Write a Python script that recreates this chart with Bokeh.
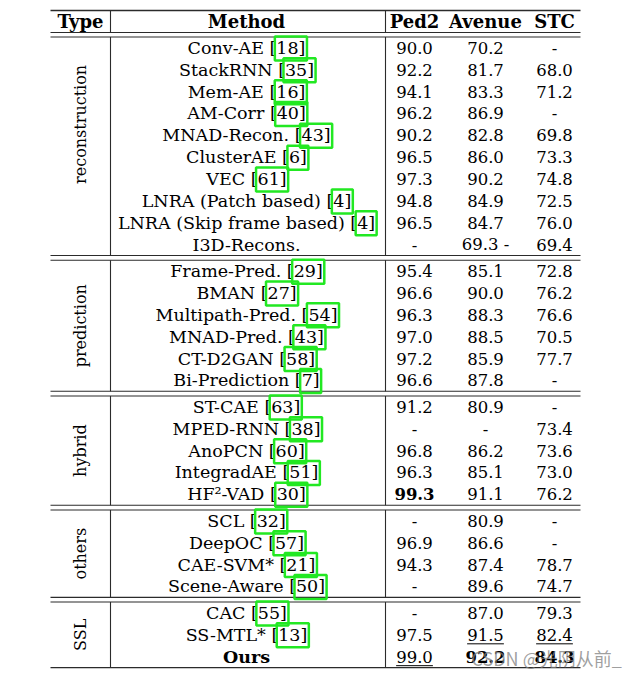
import glob, math
from bokeh.plotting import figure
from bokeh.models import Range1d, ColumnDataSource
from bokeh.embed import file_html
from bokeh.resources import INLINE
from bokeh.core.properties import value

# ---------------- data ----------------
headers = ["Type", "Method", "Ped2", "Avenue", "STC"]
types = ["reconstruction", "prediction", "hybrid", "others", "SSL"]
group_sizes = [10, 6, 5, 4, 3]
methods = ["Conv-AE", "StackRNN", "Mem-AE", "AM-Corr", "MNAD-Recon.", "ClusterAE", "VEC",
           "LNRA (Patch based)", "LNRA (Skip frame based)", "I3D-Recons.",
           "Frame-Pred.", "BMAN", "Multipath-Pred.", "MNAD-Pred.", "CT-D2GAN", "Bi-Prediction",
           "ST-CAE", "MPED-RNN", "AnoPCN", "IntegradAE", "HF²-VAD",
           "SCL", "DeepOC", "CAE-SVM*", "Scene-Aware",
           "CAC", "SS-MTL*", "Ours"]
refs = ["18", "35", "16", "40", "43", "6", "61", "4", "4", "",
        "29", "27", "54", "43", "58", "7",
        "63", "38", "60", "51", "30",
        "32", "57", "21", "50",
        "55", "13", ""]
ped2 = ["90.0", "92.2", "94.1", "96.2", "90.2", "96.5", "97.3", "94.8", "96.5", "-",
        "95.4", "96.6", "96.3", "97.0", "97.2", "96.6",
        "91.2", "-", "96.8", "96.3", "99.3",
        "-", "96.9", "94.3", "-",
        "-", "97.5", "99.0"]
avenue = ["70.2", "81.7", "83.3", "86.9", "82.8", "86.0", "90.2", "84.9", "84.7", "69.3 -",
          "85.1", "90.0", "88.3", "88.5", "85.9", "87.8",
          "80.9", "-", "86.2", "85.1", "91.1",
          "80.9", "86.6", "87.4", "89.6",
          "87.0", "91.5", "92.2"]
stc = ["-", "68.0", "71.2", "-", "69.8", "73.3", "74.8", "72.5", "76.0", "69.4",
       "72.8", "76.2", "76.6", "70.5", "77.7", "-",
       "-", "73.4", "73.6", "73.0", "76.2",
       "-", "-", "78.7", "74.7",
       "79.3", "82.4", "84.3"]
bold_cells = [("HF²-VAD", 0), ("Ours", 1), ("Ours", 2)]
bold_methods = ["Ours"]
underlined_cells = [("SS-MTL*", 1), ("SS-MTL*", 2), ("Ours", 0)]
watermark = "CSDN @光阴从前_"

# ---------------- layout ----------------
X_LEFT, X_RIGHT = 51, 581
X_V = [111, 386]
X_TYPE, X_METHOD = 81, 247
X_COLS = [415, 486, 555]
Y_TOP, Y_HEAD = 11, 21.5
HEAD_RULES = [33, 37.5]
PITCH, GAP = 21.85, 4.7
LABEL_ROWS = [8, 6, 5, 4, 3]

BODY_FONT = "DejaVu Serif"
METHOD_SIZE, NUM_SIZE, LABEL_SIZE = 17.5, 16.5, 16
HEAD_FONT, HEAD_SIZE = "DejaVu Serif", 18
LINE_COLOR = "#2b2b2b"
BOX_COLOR = "#22e822"


def find_font(name):
    for root in ["/usr/share/fonts", "/usr/local/share/fonts", "/root/.fonts"]:
        hits = glob.glob(root + "/**/" + name, recursive=True)
        if hits:
            return hits[0]
    return None


try:
    from PIL import ImageFont
    _path = find_font("DejaVuSerif.ttf")
    _fonts = {s: ImageFont.truetype(_path, s) for s in (METHOD_SIZE, NUM_SIZE)} if _path else None
except Exception:
    _fonts = None


def text_width(s, size):
    if _fonts is not None:
        return _fonts[size].getlength(s)
    return len(s) * 0.58 * size


# row centres and rules
row_y = []
h_rules = [(Y_TOP, 1.4)] + [(y, 1.1) for y in HEAD_RULES]
v_segments = [(Y_TOP, HEAD_RULES[0])]
group_starts = []
y = HEAD_RULES[1]
for gi, n in enumerate(group_sizes):
    start = y
    for i in range(n):
        row_y.append(start + PITCH * (i + 0.5))
    end = start + n * PITCH
    group_starts.append(start)
    v_segments.append((start, end))
    if gi < len(group_sizes) - 1:
        h_rules.append((end, 1.1))
        h_rules.append((end + GAP, 1.1))
        y = end + GAP
    else:
        h_rules.append((end, 1.4))

# data coordinates equal picture pixels (the frame starts ~1px into the picture)
p = figure(width=632, height=676, x_range=Range1d(1, 633), y_range=Range1d(677, 1),
           output_backend="svg", toolbar_location=None, min_border=0,
           x_axis_location=None, y_axis_location=None)
p.grid.visible = False
p.outline_line_color = None
p.background_fill_color = "white"

# rules
p.segment(x0=[X_LEFT] * len(h_rules), x1=[X_RIGHT] * len(h_rules),
          y0=[r[0] for r in h_rules], y1=[r[0] for r in h_rules],
          line_color=LINE_COLOR, line_width=[r[1] for r in h_rules])
vx, vy0, vy1 = [], [], []
for xv in X_V:
    for a, b in v_segments:
        vx.append(xv); vy0.append(a); vy1.append(b)
p.segment(x0=vx, x1=vx, y0=vy0, y1=vy1, line_color=LINE_COLOR, line_width=1.1)

# headers
head_x = [X_TYPE, X_METHOD] + X_COLS
p.text(x=head_x, y=[Y_HEAD] * len(headers), text=headers,
       text_font=value(HEAD_FONT), text_font_style="bold", text_font_size=f"{HEAD_SIZE}px",
       text_align="center", text_baseline="middle", text_color="black")

# type labels (rotated)
label_y = [s + lr * PITCH / 2 for s, lr in zip(group_starts, LABEL_ROWS)]
p.text(x=[X_TYPE] * len(types), y=label_y, text=types, angle=math.pi / 2,
       text_font=value(BODY_FONT), text_font_size=f"{LABEL_SIZE}px",
       text_align="center", text_baseline="middle", text_color="black")

# method column
m_text, m_y, m_bold = [], [], []
box_l, box_r, box_t, box_b = [], [], [], []
for name, ref, yc in zip(methods, refs, row_y):
    full = f"{name} [{ref}]" if ref else name
    m_text.append(full); m_y.append(yc); m_bold.append(name in bold_methods)
    if ref:
        w = text_width(full, METHOD_SIZE)
        left = X_METHOD - w / 2
        box_l.append(left + text_width(name + " [", METHOD_SIZE) - 1.5)
        box_r.append(left + w + 1.5)
        box_t.append(yc - 11.5)
        box_b.append(yc + 12.5)

norm = ColumnDataSource(dict(x=[X_METHOD] * sum(not b for b in m_bold),
                             y=[yy for yy, b in zip(m_y, m_bold) if not b],
                             t=[tt for tt, b in zip(m_text, m_bold) if not b]))
bold = ColumnDataSource(dict(x=[X_METHOD] * sum(m_bold),
                             y=[yy for yy, b in zip(m_y, m_bold) if b],
                             t=[tt for tt, b in zip(m_text, m_bold) if b]))
p.text(x="x", y="y", text="t", source=norm, text_font=value(BODY_FONT),
       text_font_size=f"{METHOD_SIZE}px", text_align="center", text_baseline="middle",
       text_color="black")
p.text(x="x", y="y", text="t", source=bold, text_font=value(BODY_FONT), text_font_style="bold",
       text_font_size=f"{METHOD_SIZE}px", text_align="center", text_baseline="middle",
       text_color="black")

# value columns
cols = [ped2, avenue, stc]
nx, ny, nt, bx, by, bt = [], [], [], [], [], []
ux0, ux1, uy = [], [], []
for ci, col in enumerate(cols):
    for name, v, yc in zip(methods, col, row_y):
        if (name, ci) in bold_cells:
            bx.append(X_COLS[ci]); by.append(yc); bt.append(v)
        else:
            nx.append(X_COLS[ci]); ny.append(yc); nt.append(v)
        if (name, ci) in underlined_cells:
            w = text_width(v, NUM_SIZE)
            ux0.append(X_COLS[ci] - w / 2); ux1.append(X_COLS[ci] + w / 2); uy.append(yc + 9)
p.text(x=nx, y=ny, text=nt, text_font=value(BODY_FONT), text_font_size=f"{NUM_SIZE}px",
       text_align="center", text_baseline="middle", text_color="black")
p.text(x=bx, y=by, text=bt, text_font=value(BODY_FONT), text_font_style="bold",
       text_font_size=f"{NUM_SIZE}px", text_align="center", text_baseline="middle",
       text_color="black")
p.segment(x0=ux0, x1=ux1, y0=uy, y1=uy, line_color="black", line_width=1)

# citation boxes
p.quad(left=box_l, right=box_r, top=box_t, bottom=box_b, fill_alpha=0,
       line_color=BOX_COLOR, line_width=2.5)

# watermark
p.text(x=[472], y=[row_y[-1] + 1], text=[watermark], text_font=value("Noto Sans CJK SC"),
       text_font_size="18px", text_align="left", text_baseline="middle",
       text_color="#808080", text_alpha=0.75)

open("out.html", "w").write(file_html(p, INLINE))
